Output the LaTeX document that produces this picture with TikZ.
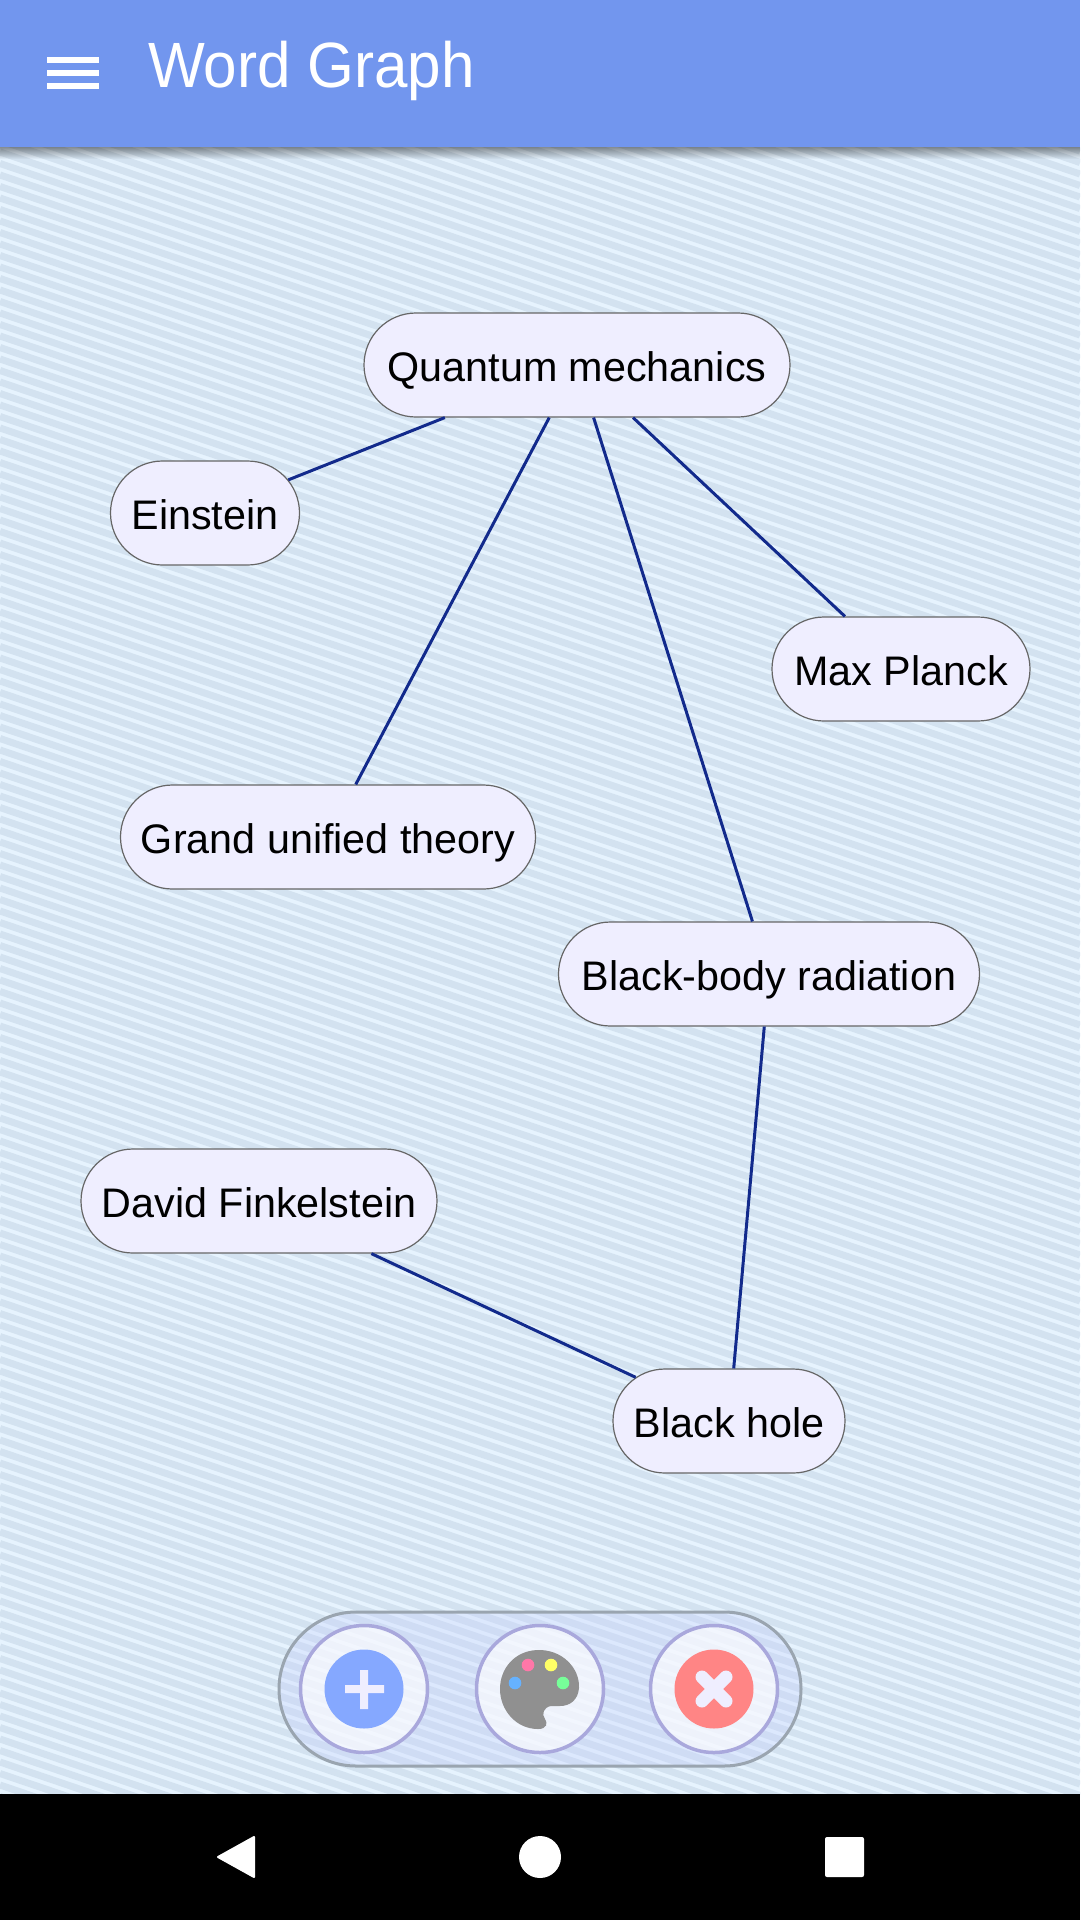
\documentclass[tikz,border=0pt]{standalone}
\usepackage{fontspec}
\setmainfont{Liberation Sans}
\newfontfamily\titlefont[FakeStretch=.94]{Liberation Sans}
\usetikzlibrary{shapes.misc}
\definecolor{barblue}{HTML}{7296EE}
\definecolor{stripelight}{HTML}{E6F3FE}
\definecolor{stripedark}{HTML}{D3E2F0}
\definecolor{wordfill}{HTML}{EFEEFF}
\definecolor{linkblue}{HTML}{122A8C}
\definecolor{ringviolet}{HTML}{A9A8DC}
\definecolor{trayblue}{HTML}{C7D1FD}
\definecolor{trayedge}{HTML}{9AA5B0}
\definecolor{addblue}{HTML}{85A8FF}
\definecolor{closered}{HTML}{FF8585}
\definecolor{paintgray}{HTML}{909090}

\begin{document}
\begin{tikzpicture}[x=1pt,y=-1pt,
 word/.style={rounded rectangle,draw=black!60,line width=1.2pt,fill=wordfill,minimum height=104pt,inner sep=0pt,text height=36pt,text depth=3pt,font=\fontsize{41.3}{49}\selectfont},
 link/.style={draw=linkblue,line width=3pt},
 ring/.style={circle,draw=ringviolet,line width=3.5pt,fill=white,fill opacity=.65,minimum size=127pt,inner sep=0pt},
 navicon/.style={fill=white,draw=white,line width=2pt,line join=round}]
\useasboundingbox (0,0) rectangle (1080,1920);
\fill[stripelight] (0,0) rectangle (1080,1794);
\begin{scope}
\clip (0,147) rectangle (1080,1794);
\foreach \s in {-400,-388.5,...,1800} \draw[stripedark,line width=7pt] (0,\s) -- (1080,\s+367);
\end{scope}
% app bar
\foreach \i [evaluate=\i as \o using .42-.035*\i] in {0,...,11} \fill[black,opacity=\o] (0,147+\i) rectangle (1080,148+\i);
\fill[barblue] (0,0) rectangle (1080,147);
\foreach \y in {60,73,86} \fill[white] (47,\y-3) rectangle (99,\y+3);
\node[white,anchor=base west,inner sep=0pt,font=\fontsize{64}{70}\titlefont] (title) at (148,87) {Word Graph};
% word graph
\node[word,minimum width=426pt] (quantum) at (577,365) {Quantum mechanics};
\node[word,minimum width=189pt] (einstein) at (205,513) {Einstein};
\node[word,minimum width=258pt] (planck) at (901,669) {Max Planck};
\node[word,minimum width=415pt] (unified) at (328,837) {Grand unified theory};
\node[word,minimum width=421pt] (blackbody) at (769,974) {Black-body radiation};
\node[word,minimum width=356pt] (finkelstein) at (259,1201) {David Finkelstein};
\node[word,minimum width=232pt] (blackhole) at (729,1421) {Black hole};
\draw[link] (quantum)--(einstein); \draw[link] (quantum)--(unified);
\draw[link] (quantum)--(blackbody); \draw[link] (quantum)--(planck);
\draw[link] (blackbody)--(blackhole); \draw[link] (finkelstein)--(blackhole);
% button tray
\node[rounded rectangle,draw=trayedge,line width=3pt,fill=trayblue,fill opacity=.32,draw opacity=1,minimum width=522pt,minimum height=154pt,inner sep=0pt] (tray) at (540,1689) {};
\node[ring] (addring) at (364,1689) {};
\node[ring] (paintring) at (540,1689) {};
\node[ring] (closering) at (714,1689) {};
\fill[addblue] (addring.center) circle (39.5);
\fill[wordfill] (345,1685) rectangle (384,1693) (360,1670) rectangle (368,1709);
\fill[paintgray] (537,1650) .. controls (562,1649) and (580,1668) .. (579,1688)
 .. controls (578,1700) and (570,1706) .. (560,1706) -- (551,1706)
 .. controls (544,1707) and (541,1714) .. (545,1719)
 .. controls (548,1723) and (547,1729) .. (538,1729)
 .. controls (516,1729) and (500,1710) .. (500,1689)
 .. controls (500,1668) and (515,1651) .. (537,1650) -- cycle;
\foreach \cx/\cy/\col in {528/1665/FF77A8,551/1665/FFFF66,515/1683/66B2FF,563/1683/77FF99} {
 \definecolor{dotcol}{HTML}{\col}
 \fill[dotcol] (\cx,\cy) circle (6.3);
}
\fill[closered] (closering.center) circle (39.5);
\draw[wordfill,line width=13pt,line cap=round] (702,1677) -- (726,1701) (726,1677) -- (702,1701);
% navigation bar
\fill[black] (0,1794) rectangle (1080,1920);
\filldraw[navicon] (254,1837) -- (218,1857) -- (254,1877) -- cycle;
\fill[white] (540,1857) circle (21);
\fill[white,rounded corners=2pt] (825,1837) rectangle (864,1877);
\end{tikzpicture}
\end{document}
